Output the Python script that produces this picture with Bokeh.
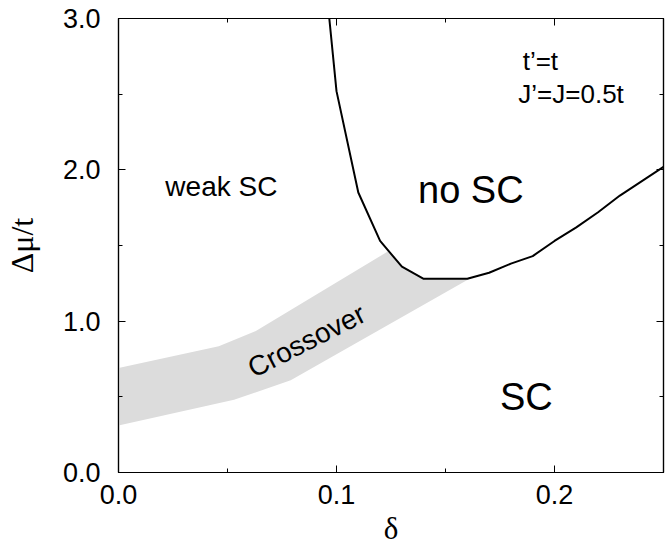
from bokeh.plotting import figure
from bokeh.models import (LinearAxis, SingleIntervalTicker, PrintfTickFormatter,
                          CustomJSTickFormatter)
from bokeh.core.properties import value
from bokeh.embed import file_html
from bokeh.resources import INLINE
import math

# ---- data ----
curve_x = [0.0967, 0.100, 0.110, 0.120, 0.130, 0.140, 0.160, 0.170, 0.180, 0.190, 0.200, 0.210, 0.220, 0.230, 0.250]
curve_y = [3.00, 2.52, 1.85, 1.53, 1.36, 1.28, 1.28, 1.32, 1.38, 1.43, 1.53, 1.62, 1.72, 1.83, 2.02]

band_top_x = [0.0, 0.046, 0.063, 0.1235, 0.130, 0.140, 0.161]
band_top_y = [0.69, 0.835, 0.935, 1.46, 1.36, 1.28, 1.28]
band_bottom_x = [0.0, 0.053, 0.079, 0.161]
band_bottom_y = [0.31, 0.48, 0.61, 1.28]

x_ticks_interval = 0.1
y_ticks_interval = 1.0

region_labels = ["weak SC", "no SC", "SC"]
param_labels = ["t\u2019=t", "J\u2019=J=0.5t"]

FONT = "Liberation Sans"

p = figure(width=670, height=548, x_range=(0, 0.25), y_range=(0, 3),
           output_backend="svg", toolbar_location=None,
           x_axis_type=None, y_axis_type=None,
           min_border_left=118, min_border_right=7, min_border_top=18, min_border_bottom=76)
p.outline_line_color = "black"
p.outline_line_width = 1.2
p.background_fill_color = "white"
p.border_fill_color = "white"

# band
band_xs = band_top_x + band_bottom_x[::-1]
band_ys = band_top_y + band_bottom_y[::-1]
p.patch(band_xs, band_ys, fill_color="#dcdcdc", line_color=None)

# boundary line
p.line(curve_x, curve_y, line_color="black", line_width=2)


def style_axis(ax, interval, labels):
    ax.ticker = SingleIntervalTicker(interval=interval, num_minor_ticks=2)
    ax.major_tick_in = 7
    ax.major_tick_out = 0
    ax.minor_tick_in = 4
    ax.minor_tick_out = 0
    ax.axis_line_color = "black"
    ax.axis_line_width = 1.2
    ax.major_tick_line_color = "black"
    ax.minor_tick_line_color = "black"
    if labels:
        ax.formatter = PrintfTickFormatter(format="%.1f")
        ax.major_label_text_font = FONT
        ax.major_label_text_font_size = "27px"
        ax.major_label_text_color = "black"
    else:
        ax.formatter = CustomJSTickFormatter(code="return ''")
        ax.major_label_text_font_size = "0px"
        ax.major_label_standoff = 0


xb = LinearAxis(axis_label="\u03b4")
style_axis(xb, x_ticks_interval, True)
xb.major_label_standoff = 12
xb.axis_label_standoff = 4
xb.axis_label_text_font = "Liberation Serif"
xb.axis_label_text_font_style = "normal"
xb.axis_label_text_font_size = "31px"
xb.axis_label_text_color = "black"
p.add_layout(xb, "below")

yl = LinearAxis(axis_label="\u0394\u03bc/t")
style_axis(yl, y_ticks_interval, True)
yl.major_label_standoff = 18
yl.axis_label_standoff = 20
yl.axis_label_text_font = "Liberation Serif"
yl.axis_label_text_font_style = "normal"
yl.axis_label_text_font_size = "32px"
yl.axis_label_text_color = "black"
p.add_layout(yl, "left")

xt = LinearAxis()
style_axis(xt, x_ticks_interval, False)
p.add_layout(xt, "above")

yr = LinearAxis()
style_axis(yr, y_ticks_interval, False)
p.add_layout(yr, "right")

# region labels
p.text(x=[0.0215], y=[1.89], text=[region_labels[0]], text_font=value(FONT),
       text_font_size="28px", text_color="black", text_baseline="alphabetic", text_align="left")
p.text(x=[0.1374, 0.175], y=[1.87, 0.50], text=region_labels[1:], text_font=value(FONT),
       text_font_size="38px", text_color="black", text_baseline="alphabetic", text_align="left")
p.text(x=[0.1854, 0.1834], y=[2.72, 2.50], text=param_labels, text_font=value(FONT),
       text_font_size="26px", text_color="black", text_baseline="alphabetic", text_align="left")
p.text(x=[0.0863], y=[0.87], text=["Crossover"], text_font=value(FONT),
       text_font_size="28px", text_color="black", text_baseline="middle", text_align="center",
       angle=math.radians(27))

open("out.html", "w").write(file_html(p, INLINE))
